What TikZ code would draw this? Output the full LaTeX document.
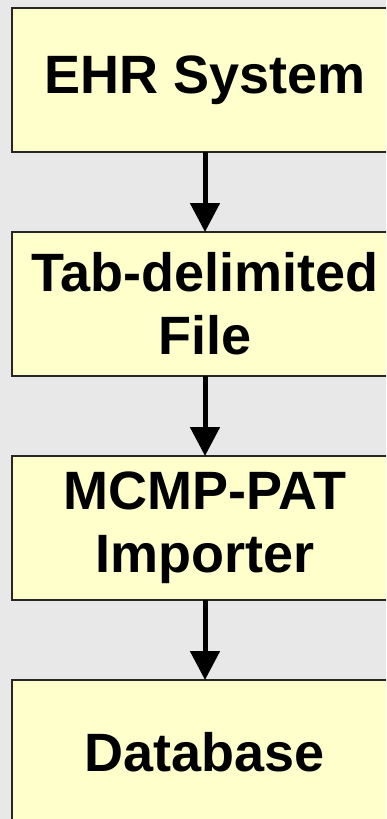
\documentclass[tikz,border=0pt]{standalone}
\usepackage{fontspec}
\setmainfont{Liberation Sans}
\usetikzlibrary{positioning,arrows.meta}
\definecolor{bggray}{RGB}{232,232,232}
\definecolor{stageyellow}{RGB}{255,255,204}
\tikzset{
  stage/.style={draw=black!85,line width=1.2pt,fill=stageyellow,
    minimum width=386pt,minimum height=144pt,inner sep=0pt,outer sep=0pt,
    align=center,font=\fontsize{54}{63}\selectfont\bfseries},
  flow/.style={line width=5pt,-{Triangle[width=29pt,length=29pt]}}
}
\begin{document}
\begin{tikzpicture}[x=1pt,y=1pt]
\fill[bggray] (0,0) rectangle (386,-819);
\useasboundingbox (0,0) rectangle (386,-819);
\clip (0,0) rectangle (386,-819);
% stages
\node[stage] (ehr) at (205,-80) {EHR System};
\node[stage,below=80pt of ehr] (tabfile) {Tab-delimited\\File};
\node[stage,below=80pt of tabfile] (importer) {MCMP-PAT\\Importer};
\node[stage,below=80pt of importer] (db) {Database};
% arrows
\draw[flow] (ehr) -- (tabfile);
\draw[flow] (tabfile) -- (importer);
\draw[flow] (importer) -- (db);
\end{tikzpicture}
\end{document}
